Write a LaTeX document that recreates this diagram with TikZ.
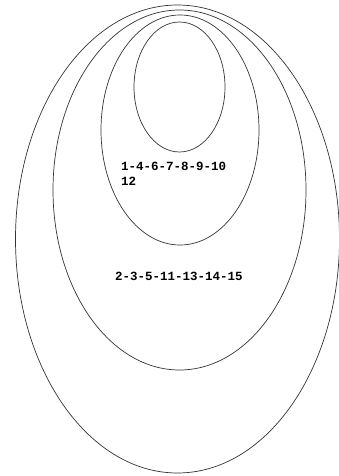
\documentclass[tikz,border=0pt]{standalone}
\usepackage{fontspec}
\setmonofont{Liberation Mono}
\usepackage{tikz}

\tikzset{
  setline/.style={draw=black!80,line width=0.7pt},
  setlbl/.style={anchor=base west,inner sep=0pt,font=\ttfamily\bfseries\fontsize{12.5}{15}\selectfont}
}

\begin{document}
\begin{tikzpicture}[x=1pt,y=-1pt]
\useasboundingbox (0,0) rectangle (338,476);
\draw[setline] (177.5,239) ellipse (162 and 234);
\draw[setline] (179.5,190) ellipse (126.5 and 180);
\draw[setline] (180,130) ellipse (79 and 115);
\draw[setline] (179.5,87) ellipse (45.5 and 65);
\node[setlbl] (inner) at (121,170) {1-4-6-7-8-9-10};
\node[setlbl] (innerb) at (121,185) {12};
\node[setlbl] (middle) at (115,280) {2-3-5-11-13-14-15};
\end{tikzpicture}
\end{document}
